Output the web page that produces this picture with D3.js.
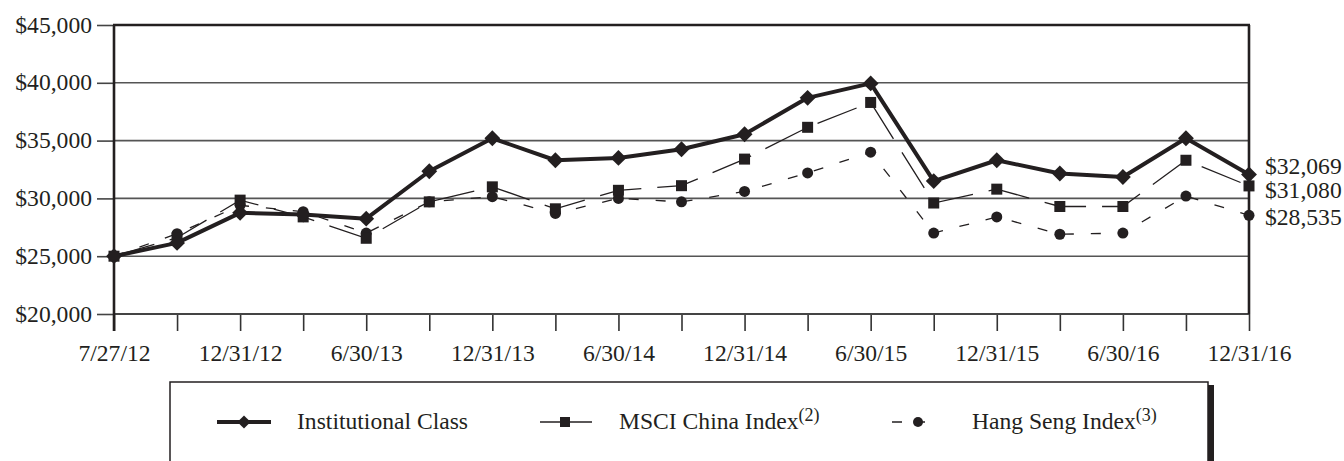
<!DOCTYPE html>
<html>
<head>
<meta charset="utf-8">
<script src="https://cdn.jsdelivr.net/npm/d3@7/dist/d3.min.js"></script>
<style>
  html, body { margin: 0; padding: 0; background: #fff; }
  svg { display: block; }
  text { font-family: "Liberation Serif", "Times New Roman", serif; fill: #231f20; }
</style>
</head>
<body>
<svg id="chart" width="1344" height="461"></svg>
<script>
// Growth of a $25,000 investment, quarterly values
const dates = ["7/27/12", "9/30/12", "12/31/12", "3/31/13", "6/30/13", "9/30/13", "12/31/13",
  "3/31/14", "6/30/14", "9/30/14", "12/31/14", "3/31/15", "6/30/15", "9/30/15",
  "12/31/15", "3/31/16", "6/30/16", "9/30/16", "12/31/16"];

const institutional = [25000, 26150, 28750, 28600, 28250, 32350, 35200, 33300, 33500, 34250,
  35550, 38700, 39950, 31500, 33300, 32150, 31850, 35200, 32069];

const msci = [25000, 26600, 29850, 28400, 26550, 29700, 31000, 29100, 30700, 31100,
  33400, 36150, 38300, 29600, 30800, 29300, 29300, 33300, 31080];

const hangSeng = [25000, 26950, 29400, 28850, 27000, 29700, 30150, 28700, 30000, 29700,
  30600, 32200, 34000, 27000, 28400, 26900, 27000, 30200, 28535];

const yTicks = [20000, 25000, 30000, 35000, 40000, 45000];
const legendNames = ["Institutional Class", "MSCI China Index", "Hang Seng Index"];
const legendNotes = ["", "(2)", "(3)"];

const ink = "#231f20";
const fontSize = 23.6;
const svg = d3.select("#chart");
const plotLeft = 114, plotRight = 1249, plotTop = 25, plotBottom = 314;

const x = d3.scalePoint().domain(dates).range([plotLeft, plotRight]);
const y = d3.scaleLinear().domain([20000, 45000]).range([plotBottom, plotTop]);
const money = d => "$" + d3.format(",")(d);

// horizontal grid
svg.append("g")
  .selectAll("line")
  .data(yTicks.filter(t => t > 20000 && t < 45000))
  .join("line")
  .attr("x1", plotLeft).attr("x2", plotRight)
  .attr("y1", d => y(d)).attr("y2", d => y(d))
  .attr("stroke", "#555").attr("stroke-width", 1.6);

// y axis
const yAxis = svg.append("g")
  .attr("transform", `translate(${plotLeft},0)`)
  .call(d3.axisLeft(y).tickValues(yTicks).tickSize(17).tickPadding(5).tickFormat(money));
yAxis.select(".domain").remove();
yAxis.selectAll(".tick line").attr("stroke", "#444").attr("stroke-width", 1.6);
yAxis.selectAll(".tick text")
  .attr("font-family", "Liberation Serif").attr("font-size", fontSize).attr("fill", ink)
  .attr("dy", "0.3em");

// x axis with every other date labelled
const xAxis = svg.append("g")
  .attr("transform", `translate(0,${plotBottom})`)
  .call(d3.axisBottom(x).tickSize(17).tickPadding(8)
    .tickFormat((d, i) => i % 2 === 0 ? d : ""));
xAxis.select(".domain").remove();
xAxis.selectAll(".tick line").attr("stroke", "#333").attr("stroke-width", 1.6);
xAxis.selectAll(".tick text")
  .attr("font-family", "Liberation Serif").attr("font-size", fontSize).attr("fill", ink)
  .attr("dy", "0.93em");

// frame
svg.append("line").attr("x1", plotLeft).attr("x2", plotRight)
  .attr("y1", plotBottom).attr("y2", plotBottom)
  .attr("stroke", "#444").attr("stroke-width", 2);
svg.append("line").attr("x1", plotLeft - 1).attr("x2", plotRight + 1)
  .attr("y1", plotTop).attr("y2", plotTop)
  .attr("stroke", ink).attr("stroke-width", 2.6);
svg.append("line").attr("x1", plotRight).attr("x2", plotRight)
  .attr("y1", plotTop).attr("y2", plotBottom)
  .attr("stroke", ink).attr("stroke-width", 2.6);
svg.append("line").attr("x1", plotLeft).attr("x2", plotLeft)
  .attr("y1", plotTop).attr("y2", plotBottom + 17)
  .attr("stroke", ink).attr("stroke-width", 2.6);

const line = d3.line().x((d, i) => x(dates[i])).y(d => y(d));

// Hang Seng: short dashes with circles
svg.append("path").datum(hangSeng).attr("d", line)
  .attr("fill", "none").attr("stroke", ink).attr("stroke-width", 1.3)
  .attr("stroke-dasharray", "10,17");
svg.append("g").selectAll("circle").data(hangSeng).join("circle")
  .attr("cx", (d, i) => x(dates[i])).attr("cy", d => y(d)).attr("r", 5.5)
  .attr("fill", ink);

// MSCI China: long dashes with squares
svg.append("path").datum(msci).attr("d", line)
  .attr("fill", "none").attr("stroke", ink).attr("stroke-width", 1.3)
  .attr("stroke-dasharray", "42,16");
svg.append("g").selectAll("rect").data(msci).join("rect")
  .attr("x", (d, i) => x(dates[i]) - 5.5).attr("y", d => y(d) - 5.5)
  .attr("width", 11).attr("height", 11).attr("fill", ink);

// Institutional Class: heavy line with diamonds
svg.append("path").datum(institutional).attr("d", line)
  .attr("fill", "none").attr("stroke", ink).attr("stroke-width", 4)
  .attr("stroke-linejoin", "round");
const diamond = d3.symbol().type(d3.symbolDiamond2).size(160);
svg.append("g").selectAll("path").data(institutional).join("path")
  .attr("d", diamond)
  .attr("transform", (d, i) => `translate(${x(dates[i])},${y(d)})`)
  .attr("fill", ink);

// ending values
const endValues = [institutional[18], msci[18], hangSeng[18]];
const endNudge = [0, 12, 10];
svg.append("g").selectAll("text").data(endValues).join("text")
  .attr("x", plotRight + 16)
  .attr("y", (d, i) => y(d) + endNudge[i])
  .attr("font-size", fontSize)
  .text(d => money(d));

// legend box with heavy right edge
const lg = svg.append("g");
lg.append("path")
  .attr("d", "M170,470 V382 H1208 V470")
  .attr("fill", "none").attr("stroke", ink).attr("stroke-width", 1.5);
lg.append("rect").attr("x", 1208).attr("y", 385).attr("width", 6).attr("height", 90)
  .attr("fill", ink);

const ly = 422;
// institutional key
lg.append("line").attr("x1", 217).attr("x2", 271).attr("y1", ly).attr("y2", ly)
  .attr("stroke", ink).attr("stroke-width", 4);
lg.append("path").attr("d", d3.symbol().type(d3.symbolDiamond2).size(110))
  .attr("transform", `translate(244,${ly})`).attr("fill", ink);
// msci key
lg.append("line").attr("x1", 540).attr("x2", 592).attr("y1", ly).attr("y2", ly)
  .attr("stroke", ink).attr("stroke-width", 1.3);
lg.append("rect").attr("x", 560).attr("y", ly - 5).attr("width", 10).attr("height", 10)
  .attr("fill", ink);
// hang seng key
lg.append("line").attr("x1", 892).attr("x2", 933).attr("y1", ly).attr("y2", ly)
  .attr("stroke", ink).attr("stroke-width", 1.3).attr("stroke-dasharray", "10,13");
lg.append("circle").attr("cx", 918).attr("cy", ly).attr("r", 5).attr("fill", ink);

const labelX = [297, 619, 972];
legendNames.forEach((name, i) => {
  const t = lg.append("text").attr("x", labelX[i]).attr("y", 429).attr("font-size", fontSize);
  t.append("tspan").text(name);
  if (legendNotes[i]) {
    t.append("tspan").attr("font-size", 18).attr("dy", -8).text(legendNotes[i]);
  }
});
</script>
</body>
</html>
